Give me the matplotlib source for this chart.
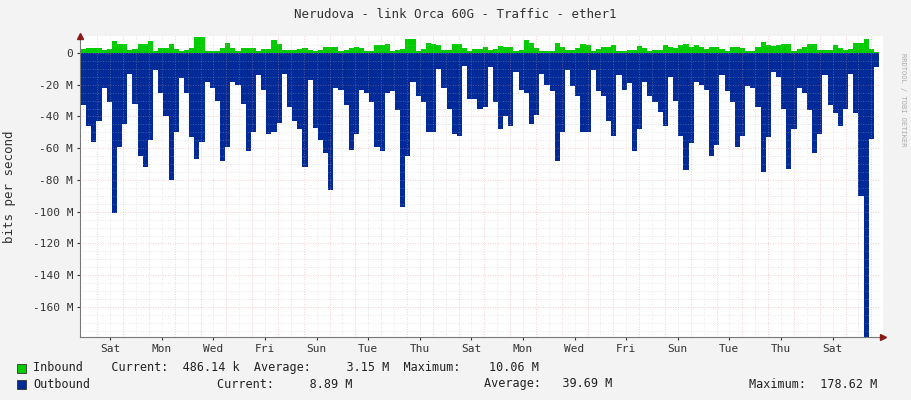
import numpy as np
import matplotlib
matplotlib.use('Agg')
import matplotlib.pyplot as plt

# outbound traffic per step, M bits/s (drawn negative)
outbound = [33, 46, 56, 43, 22, 31, 101, 59, 45, 13, 32, 65, 72, 55, 11, 25, 40, 80, 50, 16,
            25, 53, 67, 56, 18, 22, 30, 68, 59, 18, 20, 32, 62, 50, 14, 23, 51, 50, 44, 13, 34,
            43, 48, 72, 17, 47, 55, 63, 86, 22, 23, 33, 61, 51, 23, 25, 31, 59, 62, 25, 24,
            36, 97, 65, 18, 27, 31, 50, 50, 10, 22, 35, 51, 52, 8, 29, 29, 35, 34, 9,
            31, 48, 40, 46, 12, 23, 25, 45, 39, 13, 20, 24, 68, 50, 11, 21, 27, 50, 50, 11,
            24, 27, 43, 52, 14, 23, 19, 62, 48, 18, 27, 31, 37, 46, 15, 30, 52, 74, 57,
            18, 20, 23, 65, 58, 14, 24, 31, 59, 52, 21, 22, 34, 75, 53, 12, 15, 35, 73, 48,
            22, 25, 36, 63, 51, 14, 33, 38, 46, 35, 13, 38, 90, 178.6, 54, 9]
inbound = [2.5, 3, 3.3, 3, 2, 2.5, 7.5, 5.5, 5.5, 2, 2.5, 5.5, 5.8, 7.5, 1.5, 3, 3, 5.5, 2.5, 1.5,
           2, 3, 10, 10, 1.5, 1.5, 1.5, 3, 6, 3, 1.5, 3.3, 3.3, 3.3, 1, 2.5, 2.5, 8, 5.5, 2, 2,
           2, 2.5, 3, 2, 1.5, 2, 3.5, 3.5, 3.5, 1.5, 2, 3, 3.8, 3, 1.5, 1.5, 5, 5, 5.5, 1.5,
           2, 2.5, 8.5, 8.5, 1.5, 2.5, 6, 5.5, 5, 2, 2, 5.5, 5.5, 3, 1.5, 2.5, 2.5, 4, 2,
           2.5, 4.5, 3.5, 3.5, 1, 2, 8, 6, 3, 1, 1.5, 1.5, 6, 3.5, 2, 2, 3, 5.5, 5, 1,
           2.5, 3.5, 3.5, 5, 1.5, 1.5, 2, 2, 4.5, 3, 1, 2, 2, 5, 3.5, 3, 5, 5.5, 3.5,
           5, 4, 2.5, 4, 4, 2.5, 1.5, 3.5, 3.5, 3, 1.5, 1.5, 3.5, 7, 5, 4.5, 5, 5.5, 5.5, 1,
           2.5, 3.5, 5.5, 5.5, 2, 2, 2, 5, 3, 2, 2.5, 6.5, 6.5, 9, 2.5, 0.5]
day_labels = ['Sat', 'Mon', 'Wed', 'Fri', 'Sun', 'Tue', 'Thu', 'Sat', 'Mon', 'Wed',
              'Fri', 'Sun', 'Tue', 'Thu', 'Sat']

W, H = 911, 400
fig = plt.figure(figsize=(W / 100, H / 100), dpi=100, facecolor='#f3f3f3')
ax = fig.add_axes([80 / W, 1 - 337 / H, 803 / W, 301 / H])
ax.set_facecolor('white')

px_day = 25.8
edges = np.linspace(1 / px_day, 799 / px_day, len(outbound) + 1)
ax.stairs(-np.array(outbound), edges, baseline=0, fill=True, color='#002a97', lw=0, zorder=2)
ax.stairs(np.array(inbound), edges, baseline=0, fill=True, color='#00cc00', lw=0, zorder=2)

ax.set_xlim(0, 803 / px_day)
ax.set_ylim(-178.9, 10.7)

# grid: faint dotted lines, drawn over the areas like rrdtool
mid0 = (97.3 - 80) / px_day
for k in range(32):
    m = mid0 + k
    if m < 800 / px_day:
        ax.axvline(m, color='#e89090', lw=0.6, ls=(0, (1, 2)), zorder=3, alpha=0.55)
    if m + 0.5 < 800 / px_day:
        ax.axvline(m + 0.5, color='#bbbbbb', lw=0.6, ls=(0, (1, 2)), zorder=3, alpha=0.45)
for v in np.arange(-175, 10, 5):
    major = v % 20 == 0
    ax.axhline(v, color='#e89090' if major else '#bbbbbb', lw=0.6, ls=(0, (1, 2)),
               zorder=3, xmax=800 / 803, alpha=0.55 if major else 0.45)

yt = np.arange(0, -161, -20)
ax.set_yticks(yt)
ax.set_yticklabels(['0'] + ['%d M' % v for v in yt[1:]])
ax.set_xticks(mid0 + 0.5 + np.arange(0, 2 * len(day_labels), 2))
ax.set_xticklabels(day_labels)
ax.tick_params(labelsize=8, length=2, colors='#333333', pad=3)
for lab in ax.get_xticklabels() + ax.get_yticklabels():
    lab.set_family('DejaVu Sans Mono')
for s in ['top', 'right']:
    ax.spines[s].set_visible(False)
ax.spines['left'].set_color('#777777')
ax.spines['bottom'].set_color('#777777')
ax.plot([1], [0], '>', color='#8b1a1a', ms=4, transform=ax.transAxes, clip_on=False, zorder=5)
ax.plot([0], [1], '^', color='#8b1a1a', ms=4, transform=ax.transAxes, clip_on=False, zorder=5)

fig.text(0.5, 1 - 14 / H, 'Nerudova - link Orca 60G - Traffic - ether1', ha='center', va='center',
         fontsize=9, family='DejaVu Sans Mono', color='#333333')
fig.text(10 / W, 1 - 187 / H, 'bits per second', rotation=90, ha='center', va='center',
         fontsize=9, family='DejaVu Sans Mono', color='#333333')
fig.text(903 / W, 1 - 100 / H, 'RRDTOOL / TOBI OETIKER', rotation=270, ha='center', va='center',
         fontsize=5, family='DejaVu Sans Mono', color='#aaaaaa')

mono = dict(fontsize=8.5, family='DejaVu Sans Mono', color='#222222', va='center')
fig.patches.append(plt.Rectangle((17 / W, 1 - 373 / H), 9 / W, 9 / H, transform=fig.transFigure,
                                 facecolor='#00cc00', edgecolor='#333333', lw=0.6))
fig.patches.append(plt.Rectangle((17 / W, 1 - 389 / H), 9 / W, 9 / H, transform=fig.transFigure,
                                 facecolor='#002a97', edgecolor='#333333', lw=0.6))
fig.text(33 / W, 1 - 368 / H,
         'Inbound    Current:  486.14 k  Average:     3.15 M  Maximum:    10.06 M', **mono)
fig.text(33 / W, 1 - 384 / H, 'Outbound', **mono)
fig.text(217 / W, 1 - 384 / H, 'Current:     8.89 M', **mono)
fig.text(484 / W, 1 - 384 / H, 'Average:   39.69 M', **mono)
fig.text(749 / W, 1 - 384 / H, 'Maximum:  178.62 M', **mono)

fig.savefig('out.png', dpi=100, facecolor=fig.get_facecolor())
